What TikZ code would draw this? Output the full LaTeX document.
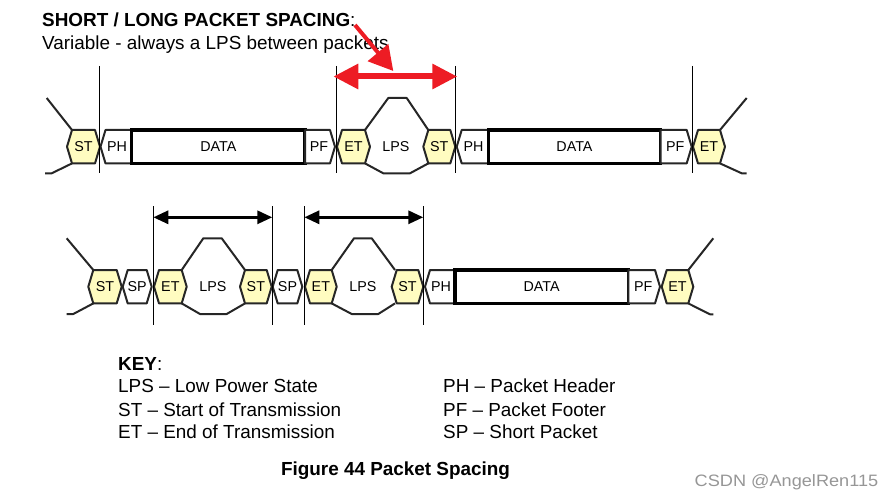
\documentclass[tikz,border=0pt]{standalone}
\usepackage{fontspec}
\setmainfont{Liberation Sans}
\usetikzlibrary{arrows.meta}
\definecolor{hexyellow}{RGB}{255,252,192}
\definecolor{redarrow}{RGB}{237,28,36}
\definecolor{wmgray}{RGB}{150,150,150}
\newcommand\hexg[6]{%
  \filldraw[hexline, fill=#6] (#2,#4) -- ({#2+5},{#4-16.7}) -- ({#3-5},{#4-16.7}) -- (#3,#4) -- ({#3-5},{#4+16.7}) -- ({#2+5},{#4+16.7}) -- cycle;
  \node[lbl] (#1) at ({(#2+#3)/2},#4) {#5};}
\newcommand\penL[5]{%
  \filldraw[hexline, fill=white] (#2,#4) -- ({#2+5},{#4-16.7}) -- (#3,{#4-16.7}) -- (#3,{#4+16.7}) -- ({#2+5},{#4+16.7}) -- cycle;
  \node[lbl] (#1) at ({(#2+#3)/2+1},#4) {#5};}
\newcommand\penR[5]{%
  \filldraw[hexline, fill=white] (#2,{#4-16.7}) -- ({#3-5},{#4-16.7}) -- (#3,#4) -- ({#3-5},{#4+16.7}) -- (#2,{#4+16.7}) -- cycle;
  \node[lbl] (#1) at ({(#2+#3)/2-1},#4) {#5};}
\newcommand\databox[4]{%
  \draw[databorder, fill=white] (#2,{#4-16.7}) rectangle (#3,{#4+16.7});
  \node[lbl] (#1) at ({(#2+#3)/2},#4) {DATA};}
\begin{document}
\begin{tikzpicture}[x=1pt,y=-1pt,
  hexline/.style={draw=black!85, line width=2pt, line join=round},
  databorder/.style={draw=black, line width=3.5pt},
  lbl/.style={inner sep=0pt, font=\fontsize{14.3}{16}\selectfont},
  vline/.style={draw=black, line width=0.9pt},
  txt/.style={inner sep=0pt, anchor=base west, font=\fontsize{18.9}{22}\selectfont},
  dimarrow/.style={line width=3pt, {Triangle[length=15pt,width=13pt]}-{Triangle[length=15pt,width=13pt]}},
  redarr/.style={draw=redarrow, line width=6pt, {Triangle[length=25pt,width=24pt]}-{Triangle[length=25pt,width=24pt]}},
  redptr/.style={draw=redarrow, line width=4pt, -{Triangle[length=24pt,width=26pt]}}]
\useasboundingbox (0,0) rectangle (894,500);

% ---------- texts ----------
\node[txt] (title) at (42,26.7) {\textbf{SHORT / LONG PACKET SPACING}:};
\node[txt] (sub) at (42,50) {Variable - always a LPS between packets};

% ---------- row 1 ----------
\draw[hexline] (46.7,98) -- (72,130);
\draw[hexline] (45,173.3) -- (51.7,173.3) -- (72,163.4);
\hexg{st1}{67}{100}{146.7}{ST}{hexyellow}
\penL{ph1}{100.5}{131.7}{146.7}{PH}
\databox{data1}{131.7}{305}{146.7}
\penR{pf1}{305}{335}{146.7}{PF}
\draw[hexline] (365,130) -- (388.3,98) -- (406.7,98) -- (428.3,130);
\draw[hexline] (365,163.4) -- (383.3,173.3) -- (410,173.3) -- (428.3,163.4);
\node[lbl] (lps1) at (396,146.7) {LPS};
\hexg{et1}{337}{370}{146.7}{ET}{hexyellow}
\hexg{st2}{423.3}{455.3}{146.7}{ST}{hexyellow}
\penL{ph2}{456.7}{488.3}{146.7}{PH}
\databox{data2}{488.3}{660.7}{146.7}
\penR{pf2}{660.7}{691.7}{146.7}{PF}
\hexg{et2}{693}{725}{146.7}{ET}{hexyellow}
\draw[hexline] (720,130) -- (746.7,98);
\draw[hexline] (720,163.4) -- (741.7,173.3) -- (746.7,173.3);

\coordinate (v1t) at (99.3,66);  \coordinate (v1b) at (99.3,173);
\coordinate (v2t) at (336.2,66); \coordinate (v2b) at (336.2,173);
\coordinate (v3t) at (455.7,66); \coordinate (v3b) at (455.7,173);
\coordinate (v4t) at (692.3,66); \coordinate (v4b) at (692.3,173);
\draw[vline] (v1t) -- (v1b);
\draw[vline] (v2t) -- (v2b);
\draw[vline] (v3t) -- (v3b);
\draw[vline] (v4t) -- (v4b);

% red arrows
\coordinate (ra) at (333.3,76.5);
\coordinate (rb) at (457.3,76.5);
\coordinate (rs) at (355,25);
\coordinate (re) at (393.3,71);
\draw[redarr] (ra) -- (rb);
\draw[redptr] (rs) -- (re);

% ---------- row 2 ----------
\draw[hexline] (66.7,238.3) -- (93.3,270);
\draw[hexline] (66.7,314) -- (73.3,314) -- (93.3,303.4);
\hexg{st3}{88.3}{121.7}{286.7}{ST}{hexyellow}
\hexg{sp1}{122.7}{151.7}{286.7}{SP}{white}
\draw[hexline] (181.7,270) -- (203.3,238.3) -- (221.7,238.3) -- (245,270);
\draw[hexline] (181.7,303.4) -- (200,314) -- (226.7,314) -- (245,303.4);
\node[lbl] (lps2) at (213,286.7) {LPS};
\hexg{et3}{154}{186.7}{286.7}{ET}{hexyellow}
\hexg{st4}{240}{271.7}{286.7}{ST}{hexyellow}
\hexg{sp2}{272.7}{302.3}{286.7}{SP}{white}
\draw[hexline] (331.7,270) -- (354,238.3) -- (371.7,238.3) -- (395,270);
\draw[hexline] (331.7,303.4) -- (351.7,314) -- (378.3,314) -- (395,303.4);
\node[lbl] (lps3) at (363,286.7) {LPS};
\hexg{et4}{305}{336.7}{286.7}{ET}{hexyellow}
\hexg{st5}{391.7}{423.3}{286.7}{ST}{hexyellow}
\penL{ph3}{425}{455}{286.7}{PH}
\databox{data3}{455}{628.3}{286.7}
\penR{pf3}{628.3}{660}{286.7}{PF}
\hexg{et5}{661.7}{693.3}{286.7}{ET}{hexyellow}
\draw[hexline] (688.3,270) -- (713.3,238.3);
\draw[hexline] (688.3,303.4) -- (710,314.3) -- (713.3,314.3);

\coordinate (w1t) at (153.3,206); \coordinate (w1b) at (153.3,325);
\coordinate (w2t) at (272.3,206); \coordinate (w2b) at (272.3,325);
\coordinate (w3t) at (304.3,206); \coordinate (w3b) at (304.3,325);
\coordinate (w4t) at (423.3,206); \coordinate (w4b) at (423.3,325);
\draw[vline] (w1t) -- (w1b);
\draw[vline] (w2t) -- (w2b);
\draw[vline] (w3t) -- (w3b);
\draw[vline] (w4t) -- (w4b);

\coordinate (a1) at (153.3,217.3); \coordinate (a2) at (272.3,217.3);
\coordinate (a3) at (304.3,217.3); \coordinate (a4) at (423.3,217.3);
\draw[dimarrow] (a1) -- (a2);
\draw[dimarrow] (a3) -- (a4);

% ---------- key ----------
\node[txt] (key) at (118,370) {\textbf{KEY}:};
\node[txt] (k1) at (118,392.7) {LPS – Low Power State};
\node[txt] (k2) at (118,416) {ST – Start of Transmission};
\node[txt] (k3) at (118,438.7) {ET – End of Transmission};
\node[txt] (k4) at (443,392.7) {PH – Packet Header};
\node[txt] (k5) at (443,416) {PF – Packet Footer};
\node[txt] (k6) at (443,438.7) {SP – Short Packet};
\node[txt, anchor=base] (cap) at (395.5,475) {\textbf{Figure 44 Packet Spacing}};
\node[txt, anchor=base east, text=wmgray, font=\fontsize{16.5}{20}\selectfont, xscale=1.1, transform shape] (wm) at (878.5,486) {CSDN @AngelRen115};
\end{tikzpicture}
\end{document}
